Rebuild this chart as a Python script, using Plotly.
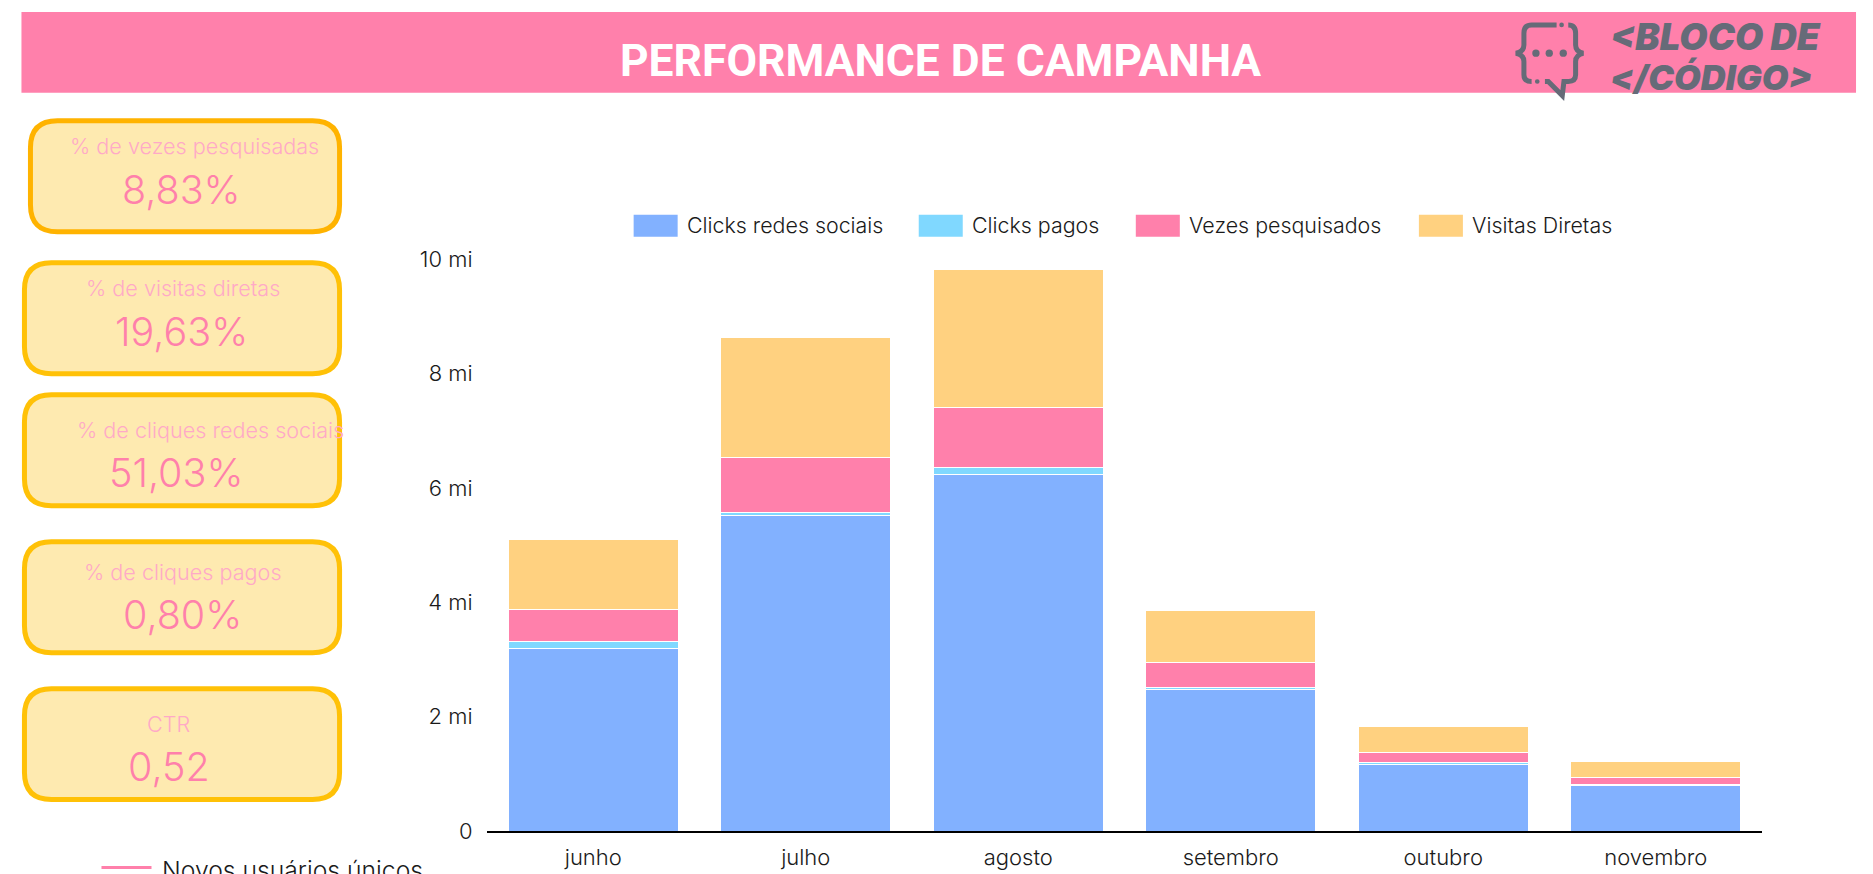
import plotly.graph_objects as go

W, H = 1873, 874
PL, PR, PT, PB = 487.4, 1762.0, 259.2, 831.4

months = ["junho", "julho", "agosto", "setembro", "outubro", "novembro"]
social = [3190000, 5510000, 6240000, 2480000, 1170000, 790000]
paid = [130000, 60000, 110000, 30000, 20000, 20000]
searched = [560000, 960000, 1060000, 430000, 190000, 130000]
direct = [1210000, 2090000, 2410000, 920000, 440000, 270000]

series_names = ["Clicks redes sociais", "Clicks pagos", "Vezes pesquisados", "Visitas Diretas"]
series_values = [social, paid, searched, direct]
series_colors = ["#82b1ff", "#80d8ff", "#ff80ab", "#ffd180"]
legend_x = [634, 919, 1136, 1419]

y_ticks = [0, 2000000, 4000000, 6000000, 8000000, 10000000]
y_labels = ["0", "2 mi", "4 mi", "6 mi", "8 mi", "10 mi"]

kpi_labels = ["% de vezes pesquisadas", "% de visitas diretas", "% de cliques redes sociais", "% de cliques pagos", "CTR"]
kpi_values = ["8,83%", "19,63%", "51,03%", "0,80%", "0,52"]
kpi_boxes = [(31, 121, 340, 232), (25, 263, 340, 374), (25, 395, 340, 506), (25, 542, 340, 653), (25, 689, 340, 800)]
kpi_border = ["#ffb300", "#ffc107", "#ffc107", "#ffc107", "#ffc107"]
kpi_label_pos = [(195, 146), (183, 288), (211, 430), (183, 572), (169, 724)]
kpi_value_pos = [(182, 190), (182, 332), (176, 473), (183, 615), (169, 767)]

FONT = "Inter"
PINK = "#ff80ab"


def px(x):
    return (x - PL) / (PR - PL)


def py(y):
    return (PB - y) / (PB - PT)


def rpath(x0, y0, x1, y1, r):
    pts = [("M", x0 + r, y0), ("L", x1 - r, y0), ("Q", x1, y0, x1, y0 + r), ("L", x1, y1 - r),
           ("Q", x1, y1, x1 - r, y1), ("L", x0 + r, y1), ("Q", x0, y1, x0, y1 - r), ("L", x0, y0 + r),
           ("Q", x0, y0, x0 + r, y0)]
    return to_path(pts) + " Z"


def to_path(cmds):
    out = []
    for c in cmds:
        coords = []
        for i in range(1, len(c), 2):
            coords.append(f"{px(c[i]):.5f},{py(c[i + 1]):.5f}")
        out.append(c[0] + " " + " ".join(coords))
    return " ".join(out)


shapes, ann = [], []


def text(t, x, y, size, color, anchor="center", weight=None, family=FONT, style=None):
    ann.append(dict(text=t, x=px(x), y=py(y), xref="paper", yref="paper", xanchor=anchor, yanchor="middle",
                    showarrow=False, borderpad=0,
                    font=dict(family=family, size=size, color=color, weight=weight, style=style)))


# Banner
shapes.append(dict(type="rect", xref="paper", yref="paper", x0=px(22), x1=px(1856), y0=py(12), y1=py(93),
                   fillcolor=PINK, line_width=0, layer="below"))
text("PERFORMANCE DE CAMPANHA", 941, 61, 44.4, "#ffffff", weight=700, family="Roboto")

# Logo
LOGO = "#666b78"
zx = lambda v: 1400 + v / 3
zy = lambda v: v / 3
brace = [("M", 470, 75), ("L", 395, 75), ("Q", 372, 75, 372, 100), ("L", 372, 135), ("Q", 372, 155, 348, 160),
         ("Q", 372, 165, 372, 185), ("L", 372, 225), ("Q", 372, 245, 395, 245)]
brace2 = [("M", 435, 245), ("L", 445, 245), ("L", 487, 287), ("L", 492, 245), ("L", 505, 245),
          ("Q", 527, 245, 527, 225), ("L", 527, 185), ("Q", 527, 165, 550, 160), ("Q", 527, 155, 527, 135),
          ("L", 527, 100), ("Q", 527, 75, 505, 75)]
for b in (brace, brace2):
    cmds = []
    for c in b:
        cmds.append((c[0],) + tuple(zx(v) if i % 2 == 0 else zy(v) for i, v in enumerate(c[1:])))
    shapes.append(dict(type="path", xref="paper", yref="paper", path=to_path(cmds),
                       line=dict(color=LOGO, width=5), fillcolor="rgba(0,0,0,0)"))
for dx, dy, r in [(408, 160, 11), (448, 160, 11), (490, 160, 11), (485, 75, 7), (412, 245, 7)]:
    shapes.append(dict(type="circle", xref="paper", yref="paper", x0=px(zx(dx - r)), x1=px(zx(dx + r)),
                       y0=py(zy(dy - r)), y1=py(zy(dy + r)), fillcolor=LOGO, line_width=0))
text("&lt;BLOCO DE", 1609, 37, 36.5, LOGO, anchor="left", weight=900, family="Inter", style="italic")
text("&lt;/CÓDIGO&gt;", 1609, 78, 34.5, LOGO, anchor="left", weight=900, family="Inter", style="italic")

# KPI cards
for lab, val, box, bc, lp, vp in zip(kpi_labels, kpi_values, kpi_boxes, kpi_border, kpi_label_pos, kpi_value_pos):
    shapes.append(dict(type="path", xref="paper", yref="paper", path=rpath(*box, 27),
                       fillcolor="#feeab0", line=dict(color=bc, width=5), layer="below"))
    text(lab, lp[0], lp[1], 21.6, "#ffa9c7", weight=300)
    text(val, vp[0], vp[1], 39.5, PINK, weight=300)

# Legend
for name, col, lx in zip(series_names, series_colors, legend_x):
    shapes.append(dict(type="rect", xref="paper", yref="paper", x0=px(lx), x1=px(lx + 44), y0=py(215), y1=py(237),
                       fillcolor=col, line_width=0))
    text(name, lx + 52, 225, 21.4, "#1a1a1a", anchor="left", weight=300)

# Lower legend, cut by the page edge
shapes.append(dict(type="line", xref="paper", yref="paper", x0=px(102), x1=px(152), y0=py(868), y1=py(868),
                   line=dict(color=PINK, width=3)))
text("Novos usuários únicos", 162, 870, 24.7, "#1a1a1a", anchor="left", weight=300)

fig = go.Figure()
for name, vals, col in zip(series_names, series_values, series_colors):
    fig.add_trace(go.Bar(name=name, x=months, y=vals, marker=dict(color=col, line=dict(color="#ffffff", width=1))))

fig.update_layout(
    template="none", width=W, height=H, barmode="stack", bargap=0.2, showlegend=False,
    margin=dict(l=PL, r=W - PR, t=PT, b=H - PB, pad=0),
    paper_bgcolor="#ffffff", plot_bgcolor="#ffffff",
    font=dict(family=FONT, size=20, color="#1a1a1a", weight=300),
    shapes=shapes, annotations=ann,
    xaxis=dict(automargin=False, showline=True, linecolor="#000000", linewidth=2, ticks="outside", ticklen=6,
               tickcolor="rgba(0,0,0,0)", showgrid=False, tickfont=dict(size=22, family=FONT, weight=300)),
    yaxis=dict(automargin=False, range=[0, 10000000], tickvals=y_ticks, ticktext=y_labels, showgrid=False,
               zeroline=False, showline=False, ticks="outside", ticklen=9, tickcolor="rgba(0,0,0,0)",
               tickfont=dict(size=22, family=FONT, weight=300)),
)
fig.write_html("out.html", config={"displayModeBar": False},
               post_script="document.body.style.margin='0';document.body.style.overflow='hidden';")
